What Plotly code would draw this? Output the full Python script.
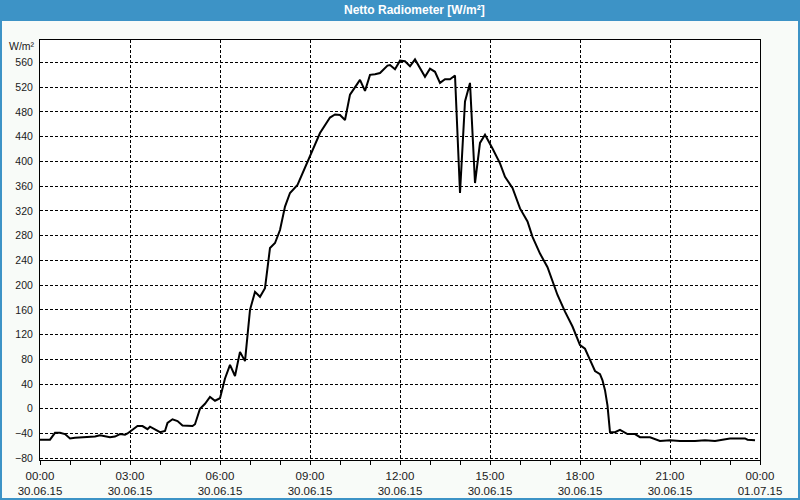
import plotly.graph_objects as go

# ---- data ----
times = ["00:00","00:20","00:30","00:40","00:50","01:00","01:10","01:30","01:50","02:00",
         "02:10","02:20","02:30","02:40","02:50","02:55","03:05","03:15","03:25","03:35",
         "03:40","03:50","04:00","04:10","04:15","04:25","04:35","04:45","04:55","05:05",
         "05:10","05:20","05:30","05:40","05:50","06:00","06:10","06:20","06:30","06:40",
         "06:50","07:00","07:10","07:20","07:30","07:40","07:50","08:00","08:10","08:20",
         "08:35","08:45","09:00","09:20","09:40","09:50","10:00","10:10","10:20","10:30",
         "10:40","10:50","11:00","11:10","11:20","11:35","11:40","11:50","12:00","12:10",
         "12:20","12:30","12:40","12:50","13:00","13:10","13:20","13:30","13:40","13:50",
         "14:00","14:10","14:20","14:30","14:40","14:50","15:05","15:20","15:30","15:45",
         "16:00","16:15","16:25","16:40","16:55","17:05","17:15","17:30","17:45","18:00",
         "18:10","18:20","18:30","18:40","18:45","18:50","18:55","19:00","19:10","19:20",
         "19:30","19:35","19:50","20:00","20:20","20:30","20:40","21:00","21:20","21:50",
         "22:00","22:10","22:30","22:40","22:50","23:00","23:30","23:35","23:50"]
values = [-50,-50,-39,-39,-41,-48,-47,-46,-45,-43,
          -45,-46,-45,-41,-42,-40,-34,-28,-28,-33,
          -29,-34,-38,-36,-23,-17,-20,-27,-28,-28,
          -25,0,8,19,13,17,49,71,53,92,
          77,160,189,181,195,260,268,289,327,349,
          362,381,408,446,471,476,475,467,508,519,
          532,514,540,541,543,555,556,549,563,562,
          554,565,551,537,550,545,527,533,533,539,
          349,497,527,365,430,443,421,397,375,357,
          324,303,278,251,229,205,184,157,133,103,
          97,79,61,56,46,30,5,-38,-38,-34,
          -39,-41,-41,-46,-46,-49,-52,-51,-52,-52,
          -51,-51,-52,-51,-50,-48,-48,-50,-51]

tick_hours = [0, 3, 6, 9, 12, 15, 18, 21, 24]
tick_labels = ["00:00<br>30.06.15", "03:00<br>30.06.15", "06:00<br>30.06.15",
               "09:00<br>30.06.15", "12:00<br>30.06.15", "15:00<br>30.06.15",
               "18:00<br>30.06.15", "21:00<br>30.06.15", "00:00<br>01.07.15"]
y_ticks = list(range(-80, 561, 40))

title_text = "Netto Radiometer [W/m²]"
unit_text = "W/m²"

hours = [int(t[:2]) + int(t[3:]) / 60 for t in times]

BLUE = "#3d93c6"
BG = "#f8fbf8"
FONT = "Liberation Sans"
TXT = "#1a1a1a"

fig = go.Figure()
fig.add_trace(go.Scatter(x=hours, y=values, mode="lines",
                         line=dict(color="black", width=2), hoverinfo="skip",
                         showlegend=False))

def px_x(px):
    return (px - 40) / 720

def px_y(py):
    return (460 - py) / 420

shapes = [
    dict(type="rect", xref="paper", yref="paper", x0=px_x(0), x1=px_x(800),
         y0=px_y(21), y1=px_y(0), fillcolor=BLUE, line=dict(width=0)),
    dict(type="rect", xref="paper", yref="paper", x0=px_x(0), x1=px_x(2),
         y0=px_y(500), y1=px_y(0), fillcolor=BLUE, line=dict(width=0)),
    dict(type="rect", xref="paper", yref="paper", x0=px_x(798), x1=px_x(800),
         y0=px_y(500), y1=px_y(0), fillcolor=BLUE, line=dict(width=0)),
    dict(type="rect", xref="paper", yref="paper", x0=px_x(0), x1=px_x(800),
         y0=px_y(500), y1=px_y(498), fillcolor=BLUE, line=dict(width=0)),
]

fig.update_layout(
    width=800, height=500,
    margin=dict(l=40, r=40, t=40, b=40, pad=0, autoexpand=False),
    paper_bgcolor=BG, plot_bgcolor="white",
    font=dict(family=FONT, size=11, color=TXT),
    shapes=shapes,
    annotations=[
        dict(text="<b>" + title_text + "</b>", xref="paper", yref="paper",
             x=px_x(414), y=px_y(10), xanchor="center", yanchor="middle",
             showarrow=False, font=dict(family=FONT, size=12, color="white")),
        dict(text=unit_text, xref="paper", yref="paper", x=0, xshift=-3,
             y=px_y(46), xanchor="right", yanchor="middle", showarrow=False,
             font=dict(family=FONT, size=10.5, color=TXT)),
    ],
)

fig.update_xaxes(
    range=[0, 24], tickmode="array", tickvals=tick_hours, ticktext=tick_labels,
    showgrid=True, gridcolor="black", gridwidth=1, griddash="3px,2px",
    showline=True, linecolor="black", linewidth=1, mirror=True,
    ticks="outside", ticklen=4, tickcolor="black", tickwidth=1,
    minor=dict(ticks="outside", ticklen=4, tickcolor="black", tickwidth=1,
               tickmode="linear", tick0=0, dtick=1, showgrid=False),
    tickfont=dict(family=FONT, size=11.5, color=TXT),
    ticklabelstandoff=1,
    zeroline=False, fixedrange=True, automargin=False,
)
fig.update_yaxes(
    range=[-82.9, 596.4], tickmode="array", tickvals=y_ticks,
    showgrid=True, gridcolor="black", gridwidth=1, griddash="3px,2px",
    showline=True, linecolor="black", linewidth=1, mirror=True,
    ticks="", ticklabelstandoff=4,
    tickfont=dict(family=FONT, size=10.5, color=TXT),
    zeroline=False, fixedrange=True, automargin=False,
)

fig.write_html("out.html", config={"displayModeBar": False})
